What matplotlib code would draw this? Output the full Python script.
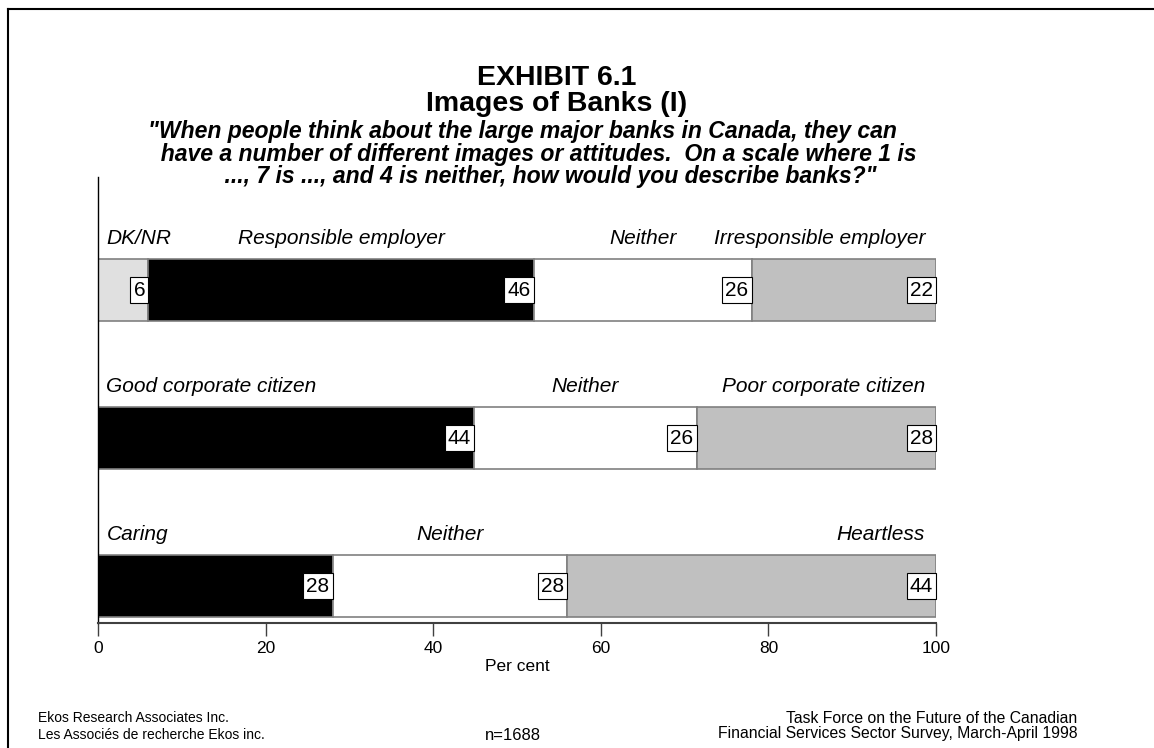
import matplotlib.pyplot as plt
from matplotlib.lines import Line2D

plt.rcParams['font.family'] = ['Liberation Sans', 'DejaVu Sans']

rows = ["Responsible", "Good corporate", "Caring"]
segment_labels = [
    ["DK/NR", "Responsible employer", "Neither", "Irresponsible employer"],
    ["Good corporate citizen", "Neither", "Poor corporate citizen"],
    ["Caring", "Neither", "Heartless"],
]
segment_values = [
    [6, 46, 26, 22],
    [44, 26, 28],
    [28, 28, 44],
]
segment_colors = [
    ["#e0e0e0", "black", "white", "#c0c0c0"],
    ["black", "white", "#c0c0c0"],
    ["black", "white", "#c0c0c0"],
]
x_ticks = [0, 20, 40, 60, 80, 100]

fig = plt.figure(figsize=(11.54, 7.48), dpi=100)
ax = fig.add_axes([0.0849, 0.1671, 0.7262, 0.5963])

bar_h = 0.42
for i, (labels, vals, cols) in enumerate(zip(segment_labels, segment_values, segment_colors)):
    total = float(sum(vals))  # rows without a DK/NR share are scaled to 100
    left = 0.0
    n = len(vals)
    for j, (lab, v, c) in enumerate(zip(labels, vals, cols)):
        w = v / total * 100
        ax.barh(i, w, left=left, height=bar_h, color=c, edgecolor="#808080", linewidth=1.2)
        # value box at the right end of the segment
        ax.annotate(str(v), xy=(left + w, i), xytext=(-2.2, 0), textcoords="offset points",
                    ha="right", va="center", fontsize=15,
                    bbox=dict(boxstyle="square,pad=0.15", fc="white", ec="black", lw=0.8))
        # category label above the bar
        if j == 0:
            lx, ha = 1, "left"
        elif j == n - 1:
            lx, ha = 98.7, "right"
        else:
            lx, ha = left + w / 2, "center"
        ax.text(lx, i - 0.35, lab, ha=ha, va="center", fontsize=15, style="italic")
        left += w

ax.set_xlim(0, 100)
ax.set_ylim(2.25, -0.764)
ax.set_xticks(x_ticks)
ax.set_xticklabels([str(t) for t in x_ticks], fontsize=12.5)
ax.tick_params(axis="x", length=9, width=1, color="#404040", pad=4)
ax.set_yticks([])
ax.set_xlabel("Per cent", fontsize=12.5, labelpad=2)
for s in ["top", "right"]:
    ax.spines[s].set_visible(False)
ax.spines["left"].set_color("black")
ax.spines["left"].set_linewidth(1)
ax.spines["bottom"].set_color("#404040")
ax.spines["bottom"].set_linewidth(1.5)

# titles
fig.text(0.4827, 1 - 91 / 748, "EXHIBIT 6.1\nImages of Banks (I)", ha="center", va="center",
         fontsize=20.5, weight="bold", linespacing=1.0)
question = ("\"When people think about the large major banks in Canada, they can\n"
            "  have a number of different images or attitudes.  On a scale where 1 is\n"
            "            ..., 7 is ..., and 4 is neither, how would you describe banks?\"")
fig.text(148 / 1154, 1 - 154 / 748, question, ha="left", va="center", fontsize=16.6,
         weight="bold", style="italic", linespacing=0.95, multialignment="left")

# footer
fig.text(38 / 1154, 1 - 718 / 748, "Ekos Research Associates Inc.", ha="left", va="center", fontsize=10)
fig.text(38 / 1154, 1 - 735 / 748, "Les Associés de recherche Ekos inc.", ha="left", va="center", fontsize=10)
fig.text(513 / 1154, 1 - 735 / 748, "n=1688", ha="center", va="center", fontsize=12)
fig.text(1077 / 1154, 1 - 726 / 748,
         "Task Force on the Future of the Canadian\nFinancial Services Sector Survey, March-April 1998",
         ha="right", va="center", fontsize=11.3, linespacing=1.05, multialignment="right")

# page frame (left and top edges)
fig.add_artist(Line2D([8 / 1154, 8 / 1154], [0, 1 - 9 / 748], transform=fig.transFigure, color="black", lw=1.5))
fig.add_artist(Line2D([8 / 1154, 1], [1 - 9 / 748, 1 - 9 / 748], transform=fig.transFigure, color="black", lw=1.5))

fig.savefig("out.png", dpi=100)
